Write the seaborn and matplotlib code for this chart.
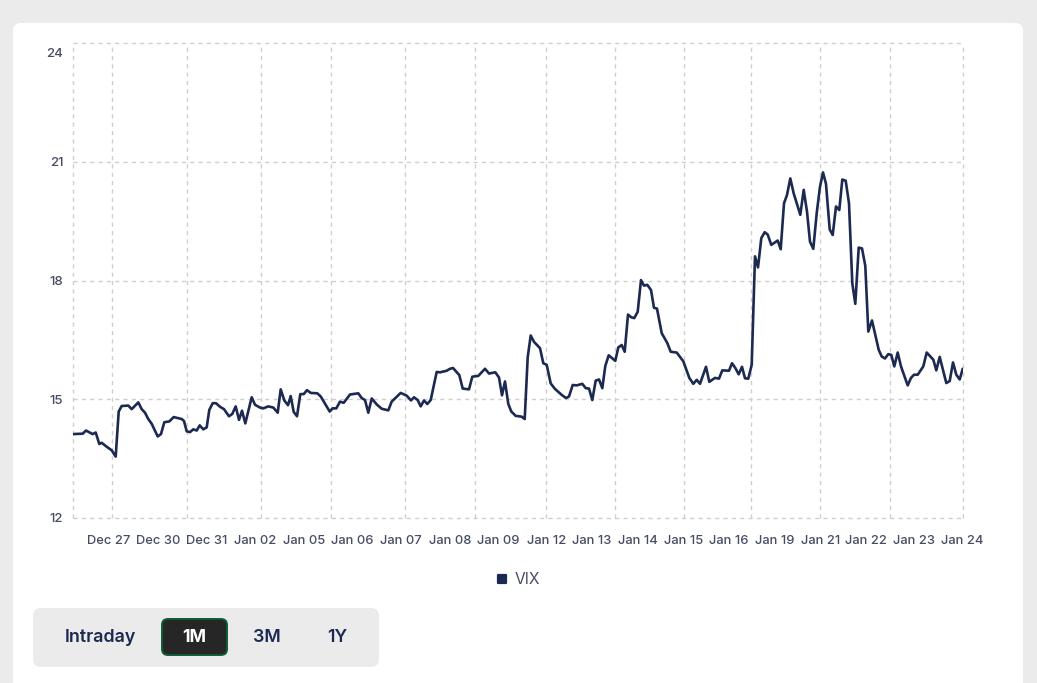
import numpy as np
import pandas as pd
import matplotlib
matplotlib.use("Agg")
import matplotlib.pyplot as plt
import seaborn as sns
from matplotlib.lines import Line2D
from matplotlib.markers import MarkerStyle
from matplotlib.patches import FancyBboxPatch
from matplotlib.transforms import ScaledTranslation

# ── data ───────────────────────────────────────────────────────────────────────
sample_pos = [
    0.3, 9.7, 13, 19.7, 22.7, 26.3, 28.7, 33.7, 38.7, 42.7, 45.7, 48.7, 55.3, 58.7, 65.3, 68.7,
    72, 75.3, 78.7, 84.7, 88, 91.3, 96.3, 100.7, 108.7, 111, 113.7, 117, 120.3, 123.7, 126.7,
    130.3, 133.7, 136.3, 139.7, 143, 147, 151, 156, 159.3, 162.7, 166, 169, 172.3, 178.7, 182,
    187, 190.3, 195.3, 200.3, 204.7, 207.7, 211.3, 215, 217.7, 220.7, 224, 227.3, 230.7, 234,
    237.7, 244.3, 247.7, 256.7, 259.7, 263.3, 267, 270.7, 277, 285.3, 288.7, 292, 295.3, 298.7,
    303.7, 308.7, 315.3, 318.7, 327.7, 333.7, 338, 341, 344.7, 347.7, 351, 354.3, 357.7, 363.7,
    367, 373.7, 377, 380, 386.3, 389.7, 396, 399.3, 405.3, 412, 416, 422.3, 426, 429, 432,
    435.3, 438.3, 442.7, 448.7, 451.7, 454.7, 457.7, 461, 467, 470.3, 473.7, 477.7, 482, 488.7,
    493, 496, 499.7, 503.7, 509.3, 512.7, 516, 519.3, 522.7, 526, 529.3, 532.3, 535.7, 542.3,
    545.3, 548.7, 551.7, 555, 558.3, 561.3, 564.7, 568, 571, 574.3, 578, 581, 584, 588.7,
    594.3, 597.7, 603.7, 610.3, 616.3, 620.3, 623.7, 627, 633, 636.3, 642, 646, 649.3, 656,
    659, 662.3, 665.7, 669, 672, 675.3, 678.7, 682, 685, 688.3, 691.7, 694.7, 698.3, 704.7,
    707.7, 711, 714, 717.3, 720.7, 727.3, 730.7, 734, 737, 740.3, 743.7, 747, 750, 753, 756.7,
    759.7, 763, 766.3, 769.3, 772.7, 776, 779.3, 782.3, 785.7, 789, 792.3, 795.3, 799, 802.3,
    805.7, 808.7, 812, 815.3, 818.3, 821.3, 824.7, 828, 834.7, 838, 841, 844.7, 850.3, 853.7,
    860.3, 863.3, 866.7, 873.3, 876.7, 880, 883.3, 886.7, 889.7,
]
vix_values = [
    14.12, 14.13, 14.21, 14.12, 14.16, 13.87, 13.90, 13.80, 13.71, 13.55, 14.69, 14.83, 14.84, 14.75, 14.92, 14.75,
    14.66, 14.50, 14.38, 14.06, 14.12, 14.42, 14.44, 14.55, 14.50, 14.45, 14.19, 14.17, 14.24, 14.21, 14.34,
    14.24, 14.29, 14.73, 14.90, 14.90, 14.81, 14.75, 14.57, 14.63, 14.82, 14.48, 14.71, 14.39, 15.05, 14.86,
    14.79, 14.77, 14.82, 14.79, 14.66, 15.25, 14.97, 14.85, 15.08, 14.68, 14.57, 15.13, 15.13, 15.23,
    15.16, 15.15, 15.07, 14.69, 14.77, 14.77, 14.94, 14.91, 15.12, 15.15, 15.03, 14.98, 14.66, 15.02,
    14.87, 14.76, 14.72, 14.94, 15.16, 15.09, 14.97, 15.05, 14.98, 14.82, 14.97, 14.88, 14.98, 15.69,
    15.68, 15.72, 15.77, 15.79, 15.61, 15.27, 15.25, 15.57, 15.59, 15.77, 15.65, 15.68, 15.55, 15.10, 15.45,
    14.88, 14.69, 14.58, 14.56, 14.50, 16.06, 16.61, 16.45, 16.29, 15.91, 15.87, 15.40, 15.26, 15.11,
    15.03, 15.07, 15.36, 15.35, 15.39, 15.28, 15.27, 14.98, 15.47, 15.50, 15.28, 15.84, 16.11, 15.97,
    16.31, 16.37, 16.20, 17.14, 17.07, 17.05, 17.21, 18.01, 17.87, 17.89, 17.76, 17.31, 17.29, 16.67,
    16.42, 16.20, 16.18, 15.96, 15.54, 15.39, 15.49, 15.39, 15.82, 15.44, 15.54, 15.52, 15.73, 15.72,
    15.91, 15.79, 15.63, 15.82, 15.53, 15.52, 15.87, 18.61, 18.33, 19.07, 19.22, 19.16, 18.90, 19.01,
    18.79, 19.95, 20.16, 20.58, 20.20, 19.66, 20.29, 19.74, 18.98, 18.80, 19.70, 20.37, 20.73, 20.44, 19.29,
    19.15, 19.87, 19.78, 20.55, 20.52, 19.95, 17.93, 17.41, 18.83, 18.81, 18.37, 16.71, 16.99, 16.63,
    16.25, 16.08, 16.03, 16.14, 16.12, 15.83, 16.18, 15.83, 15.35, 15.54, 15.62, 15.62, 15.83, 16.18,
    16.00, 15.73, 16.07, 15.41, 15.46, 15.93, 15.62, 15.50, 15.77,
]
grid_x = [0, 39, 114, 188, 258, 332, 402, 473, 542, 611, 678, 747, 817, 890]
date_labels = ["Dec 27", "Dec 30", "Dec 31", "Jan 02", "Jan 05", "Jan 06", "Jan 07", "Jan 08", "Jan 09", "Jan 12",
               "Jan 13", "Jan 14", "Jan 15", "Jan 16", "Jan 19", "Jan 21", "Jan 22", "Jan 23", "Jan 24"]
date_label_x = [36, 85, 134, 182, 231, 279, 328, 377, 425, 474, 519, 565, 611, 656, 702, 748, 793, 841, 889]
y_ticks = [12, 15, 18, 21, 24]
range_buttons = ["Intraday", "1M", "3M", "1Y"]

NAVY = "#1c2951"
TEXT = "#464c63"
GRID = "#cfcfcf"
PAGE = "#ebebeb"

sns.set_theme(style="white")
plt.rcParams["font.family"] = ["Inter", "DejaVu Sans"]

W, H = 1037, 683
fig = plt.figure(figsize=(W / 100, H / 100), dpi=100, facecolor=PAGE)

# page furniture, in pixel coordinates
bg = fig.add_axes([0, 0, 1, 1], zorder=0)
bg.set_xlim(0, W); bg.set_ylim(H, 0); bg.axis("off")
bg.add_patch(FancyBboxPatch((21, 31), 994, 700, boxstyle="round,pad=8,rounding_size=8", fc="white", ec="none"))
bg.add_patch(FancyBboxPatch((39, 614), 334, 47, boxstyle="round,pad=6,rounding_size=8", fc=PAGE, ec="none"))
bg.add_patch(FancyBboxPatch((166, 623), 57, 28, boxstyle="round,pad=4,rounding_size=6", fc="#262626", ec="#0d5c36", lw=1.4))
for name, cx in zip(range_buttons, [100.5, 194.5, 266.5, 337]):
    active = name == "1M"
    bg.text(cx, 638, name, ha="center", va="center", fontsize=12.8, fontweight="bold" if active else "semibold",
            color="white" if active else NAVY)

# chart
ax = fig.add_axes([73 / W, (H - 518) / H, 890 / W, 475 / H], zorder=1)
ax.patch.set_alpha(0)
df = pd.DataFrame({"pos": sample_pos, "VIX": vix_values})
sns.lineplot(data=df, x="pos", y="VIX", ax=ax, color=NAVY, linewidth=1.9, legend=False)

ax.set_xlim(0, 890)
ax.set_ylim(12, 24)
ax.set_xlabel(""); ax.set_ylabel("")
sns.despine(ax=ax, left=True, bottom=True)

ax.xaxis.remove_overlapping_locs = False  # Jan 15 label lands on a gridline
ax.set_xticks(grid_x)
ax.set_xticklabels([])
ax.set_xticks(date_label_x, minor=True)
ax.set_xticklabels(date_labels, minor=True, fontsize=9.3, color=TEXT, fontweight="medium")
ax.tick_params(axis="x", which="both", length=0)
ax.tick_params(axis="x", which="minor", pad=12)

ax.set_yticks(y_ticks)
ax.set_yticklabels([str(v) for v in y_ticks], fontsize=9.6, color=TEXT, fontweight="medium")
ax.tick_params(axis="y", length=0, pad=7)
# top label sits inside the plot height in the original
top_lab = ax.get_yticklabels()[-1]
top_lab.set_transform(top_lab.get_transform() + ScaledTranslation(0, -6.5 / 72, fig.dpi_scale_trans))

ax.grid(True, which="major", color=GRID, linestyle=(0, (3, 3)), linewidth=1, clip_on=False)
ax.set_axisbelow(True)

handle = Line2D([], [], marker=MarkerStyle("s", joinstyle="round"), linestyle="none", markersize=6, markeredgewidth=1.6, color=NAVY)
fig.legend(handles=[handle], labels=["VIX"], loc="center", bbox_to_anchor=(513.5 / W, (H - 580) / H), frameon=False,
           fontsize=11.2, labelcolor=TEXT, handletextpad=-0.17)

fig.savefig("out.png", dpi=100, facecolor=PAGE)
